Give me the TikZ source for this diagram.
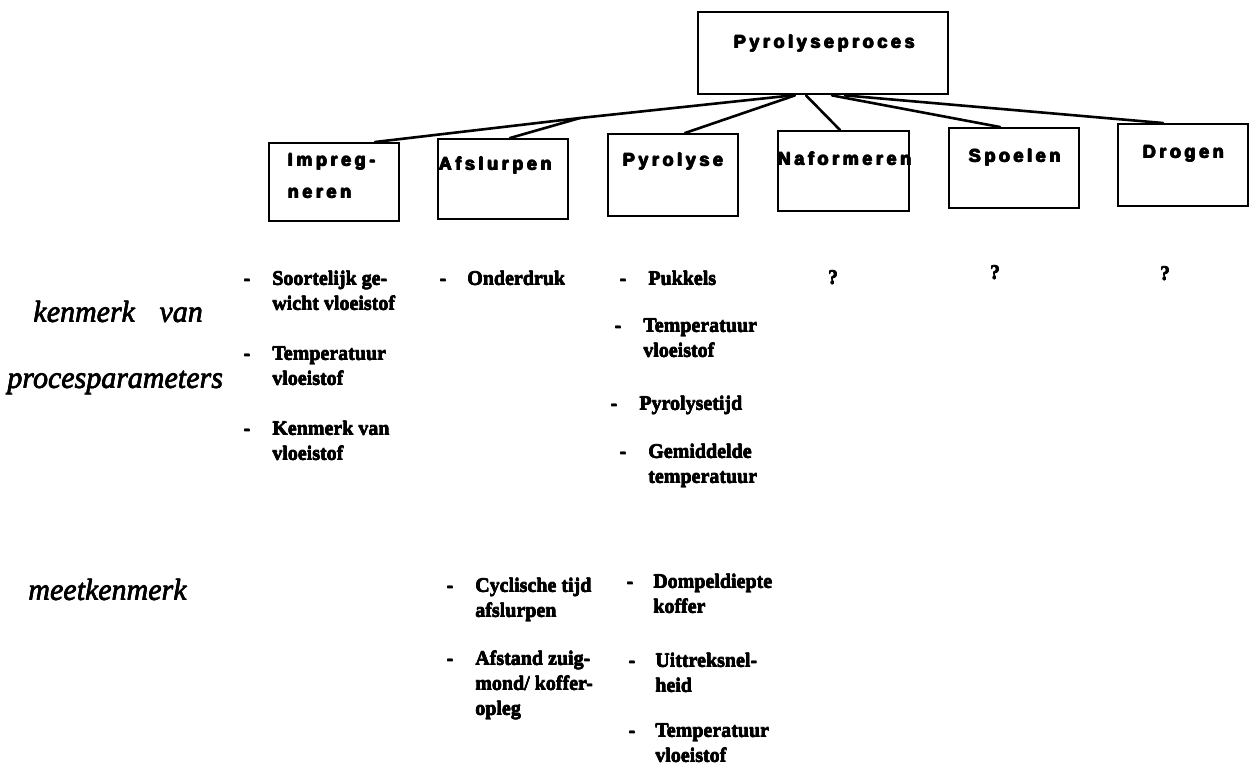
\documentclass[tikz,border=0pt]{standalone}
\usepackage{fontspec}
\setmainfont{Liberation Serif}
\newfontfamily\boxfont{Liberation Sans}[LetterSpace=20]
\usetikzlibrary{calc}
\newcommand\hvoff{0pt}
\newcommand\heavy[1]{\leavevmode\rlap{#1}\rlap{\kern\hvoff #1}\rlap{\raise0.5\dimexpr\hvoff\relax\hbox{\kern0.5\dimexpr\hvoff\relax #1}}\kern\hvoff #1}
\newcommand\twoline[2]{\vtop{\hbox{\heavy{#1}}\hbox{\heavy{#2}}}}
\newcommand\threeline[3]{\vtop{\hbox{\heavy{#1}}\hbox{\heavy{#2}}\hbox{\heavy{#3}}}}
\begin{document}
\begin{tikzpicture}[x=1pt,y=-1pt,
  box/.style={draw,line width=2.4pt,rectangle,inner sep=0,anchor=north west},
  conn/.style={line width=2.6pt,line cap=round,line join=round},
  boxlabel/.style={inner sep=0,anchor=base west,font=\def\hvoff{1.2pt}\boxfont\bfseries\fontsize{18}{32}\selectfont},
  item/.style={inner sep=0,anchor=base west,font=\def\hvoff{0.35pt}\bfseries\fontsize{20}{25}\selectfont},
  dashmark/.style={inner sep=0,anchor=base,font=\def\hvoff{0.8pt}\bfseries\fontsize{20}{25}\selectfont},
  qmark/.style={inner sep=0,anchor=base,font=\def\hvoff{0.4pt}\bfseries\fontsize{20}{25}\selectfont},
  side/.style={inner sep=0,anchor=base west,font=\def\hvoff{0.5pt}\itshape\fontsize{30}{36}\selectfont}]
\useasboundingbox[fill=white] (0,0) rectangle (1255,766);

% boxes
\node[box,minimum width=250pt,minimum height=82pt] (top) at (697,11) {};
\node[box,minimum width=130pt,minimum height=78pt] (imp) at (268,142) {};
\node[box,minimum width=130pt,minimum height=80pt] (afs) at (437,138) {};
\node[box,minimum width=130pt,minimum height=82pt] (pyr) at (607,133) {};
\node[box,minimum width=131pt,minimum height=80pt] (naf) at (777,130) {};
\node[box,minimum width=130pt,minimum height=80pt] (spo) at (948,127) {};
\node[box,minimum width=130pt,minimum height=82pt] (dro) at (1117,123) {};

% box labels
\node[boxlabel] (ltop) at (733,48) {\heavy{Pyrolyseproces}};
\node[boxlabel] (limp) at (287,166) {\twoline{Impreg-}{neren}};
\node[boxlabel] (lafs) at (438,170) {\heavy{Afslurpen}};
\node[boxlabel] (lpyr) at (622,166) {\heavy{Pyrolyse}};
\node[boxlabel] (lnaf) at (777,165) {\heavy{Naformeren}};
\node[boxlabel] (lspo) at (968,162) {\heavy{Spoelen}};
\node[boxlabel] (ldro) at (1142,158) {\heavy{Drogen}};

% connectors
\coordinate (split) at (580,118);
\draw[conn] ($(top.south west)+(95,0)$) -- (split) -- ($(imp.north west)+(107,0)$);
\draw[conn] (split) -- ($(afs.north west)+(73,0)$);
\draw[conn] ($(top.south west)+(98,0)$) -- ($(pyr.north west)+(78,0)$);
\draw[conn] ($(top.south west)+(109,0)$) -- ($(naf.north west)+(63,0)$);
\draw[conn] ($(top.south west)+(135,0)$) -- ($(spo.north west)+(52,0)$);
\draw[conn] ($(top.south west)+(148,0)$) -- ($(dro.north west)+(46,0)$);

% side labels
\node[side] (kv) at (33,322) {\heavy{kenmerk}\hspace{0.8em}\heavy{van}};
\node[side] (pp) at (7,388) {\heavy{procesparameters}};
\node[side] (mk) at (28,600) {\heavy{meetkenmerk}};

% column Impregneren
\node[dashmark] (d11) at (247,285) {\heavy{-}};
\node[item] (t11) at (272,285) {\twoline{Soortelijk ge-}{wicht vloeistof}};
\node[dashmark] (d12) at (247,360) {\heavy{-}};
\node[item] (t12) at (272,360) {\twoline{Temperatuur}{vloeistof}};
\node[dashmark] (d13) at (247,435) {\heavy{-}};
\node[item] (t13) at (272,435) {\twoline{Kenmerk van}{vloeistof}};

% column Afslurpen
\node[dashmark] (d21) at (443,285) {\heavy{-}};
\node[item] (t21) at (467,285) {\heavy{Onderdruk}};
\node[dashmark] (d22) at (450,592) {\heavy{-}};
\node[item] (t22) at (475,592) {\twoline{Cyclische tijd}{afslurpen}};
\node[dashmark] (d23) at (450,665) {\heavy{-}};
\node[item] (t23) at (475,665) {\threeline{Afstand zuig-}{mond/ koffer-}{opleg}};

% column Pyrolyse
\node[dashmark] (d31) at (623,285) {\heavy{-}};
\node[item] (t31) at (648,285) {\heavy{Pukkels}};
\node[dashmark] (d32) at (618,332) {\heavy{-}};
\node[item] (t32) at (643,332) {\twoline{Temperatuur}{vloeistof}};
\node[dashmark] (d33) at (614,410) {\heavy{-}};
\node[item] (t33) at (639,410) {\heavy{Pyrolysetijd}};
\node[dashmark] (d34) at (623,458) {\heavy{-}};
\node[item] (t34) at (648,458) {\twoline{Gemiddelde}{temperatuur}};
\node[dashmark] (d35) at (630,588) {\heavy{-}};
\node[item] (t35) at (653,588) {\twoline{Dompeldiepte}{koffer}};
\node[dashmark] (d36) at (632,667) {\heavy{-}};
\node[item] (t36) at (655,667) {\twoline{Uittreksnel-}{heid}};
\node[dashmark] (d37) at (632,737) {\heavy{-}};
\node[item] (t37) at (655,737) {\twoline{Temperatuur}{vloeistof}};

% question marks
\node[qmark] (q1) at (833,284) {\heavy{?}};
\node[qmark] (q2) at (995,279) {\heavy{?}};
\node[qmark] (q3) at (1165,280) {\heavy{?}};
\end{tikzpicture}
\end{document}
